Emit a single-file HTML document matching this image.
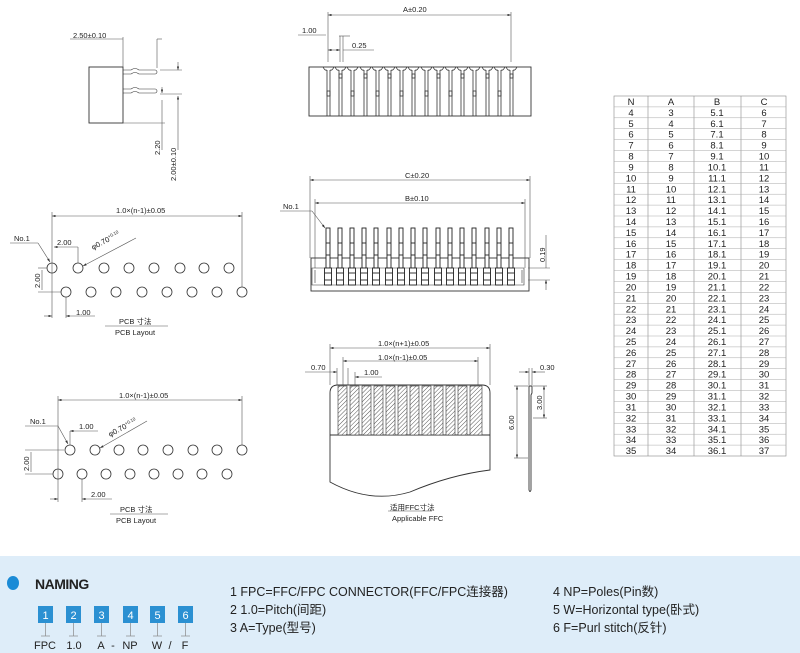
<!DOCTYPE html>
<html><head><meta charset="utf-8"><style>
html,body{margin:0;padding:0;background:#fff;}
svg{display:block;}
text{font-family:"Liberation Sans","Noto Sans CJK SC",sans-serif;}
</style></head><body>
<svg width="800" height="653" viewBox="0 0 800 653" xmlns="http://www.w3.org/2000/svg">
<defs>
<g id="slot" stroke="#333" stroke-width="0.8" fill="none">
<line x1="0" y1="70" x2="0" y2="116"/><line x1="3" y1="70" x2="3" y2="116"/>
<path d="M-4,67 q2,4 4,3 M3,70 q2,1 4,-3"/>
<rect x="0" y="74" width="3" height="4"/>
</g>
<g id="slot2" stroke="#333" stroke-width="0.8" fill="none">
<line x1="0" y1="70" x2="0" y2="116"/><line x1="3" y1="70" x2="3" y2="116"/>
<path d="M-4,67 q2,4 4,3 M3,70 q2,1 4,-3"/>
<rect x="0" y="91" width="3" height="5"/>
</g>
<g id="pin" stroke="#222" stroke-width="0.9" fill="#fff">
<rect x="0" y="228" width="4" height="40"/>
<line x1="0" y1="243" x2="4" y2="243"/><line x1="0" y1="255" x2="4" y2="255"/>
<rect x="-1.5" y="268" width="7" height="17"/>
<line x1="-1.5" y1="273" x2="5.5" y2="273"/><line x1="-1.5" y1="280" x2="5.5" y2="280"/>
</g>
<pattern id="hatch" width="3" height="3" patternUnits="userSpaceOnUse" patternTransform="rotate(45)">
<rect width="3" height="3" fill="#fff"/><line x1="0" y1="0" x2="0" y2="3" stroke="#555" stroke-width="1"/>
</pattern>
<marker id="ar" markerWidth="6" markerHeight="4" refX="6" refY="2" orient="auto-start-reverse"><path d="M0,0 L6,2 L0,4z" fill="#333"/></marker>
</defs>

<g stroke="#555" stroke-width="0.6" fill="none">
<rect x="89" y="67" width="34" height="56" stroke="#333" stroke-width="0.9"/>
<path d="M123,70 h8 q4,-3 8,0 h16 a2,2 0 0 1 0,4 h-16 q-4,-3 -8,0 h-8" stroke="#333"/>
<path d="M123,89 h8 q4,-3 8,0 h16 a2,2 0 0 1 0,4 h-16 q-4,-3 -8,0 h-8" stroke="#333"/>
<line x1="70" y1="39" x2="123" y2="39"/><line x1="123" y1="37" x2="123" y2="67"/>
<line x1="157" y1="39" x2="157" y2="68"/><line x1="157" y1="39" x2="162" y2="39"/>
<line x1="160" y1="70" x2="182" y2="70"/><line x1="178" y1="62" x2="178" y2="70" marker-end="url(#ar)"/>
<line x1="160" y1="94" x2="182" y2="94"/><line x1="162" y1="87" x2="162" y2="93" marker-end="url(#ar)"/>
<line x1="123" y1="123" x2="165" y2="123"/><line x1="162" y1="100" x2="162" y2="150"/>
<line x1="178" y1="96" x2="178" y2="150" marker-start="url(#ar)"/>

<rect x="309" y="67" width="222" height="49" stroke="#333" stroke-width="0.9"/>
<line x1="328" y1="12" x2="328" y2="62"/><line x1="511" y1="12" x2="511" y2="62"/>
<line x1="328" y1="15" x2="511" y2="15" marker-start="url(#ar)" marker-end="url(#ar)"/>
<line x1="298" y1="35" x2="326" y2="35"/><line x1="328" y1="50" x2="340" y2="50" marker-start="url(#ar)" marker-end="url(#ar)"/>
<line x1="339" y1="36" x2="350" y2="36"/><line x1="340" y1="36" x2="340" y2="62"/><line x1="343" y1="36" x2="343" y2="62"/>
<line x1="343" y1="50" x2="374" y2="50"/>

<line x1="310" y1="180" x2="530" y2="180" marker-start="url(#ar)" marker-end="url(#ar)"/>
<line x1="310" y1="176" x2="310" y2="258"/><line x1="530" y1="176" x2="530" y2="258"/>
<line x1="315" y1="203" x2="525" y2="203" marker-start="url(#ar)" marker-end="url(#ar)"/>
<line x1="315" y1="199" x2="315" y2="268"/><line x1="525" y1="199" x2="525" y2="268"/>
<line x1="280" y1="211" x2="312" y2="211"/><line x1="312" y1="211" x2="325" y2="228" marker-end="url(#ar)"/>
<rect x="311" y="258" width="218" height="33" stroke="#333" stroke-width="0.9"/>
<path d="M312,268 h212 v17 h-212z M315,270 v13 M522,270 v13" stroke="#333"/>
<line x1="528" y1="268" x2="550" y2="268"/><line x1="528" y1="280" x2="550" y2="280"/>
<line x1="546" y1="235" x2="546" y2="268"/><line x1="546" y1="280" x2="546" y2="290" marker-start="url(#ar)"/>
</g>
<g>
<use href="#slot2" x="327"/><use href="#slot" x="339"/><use href="#slot2" x="351"/><use href="#slot" x="364"/>
<use href="#slot2" x="376"/><use href="#slot" x="388"/><use href="#slot2" x="400"/><use href="#slot" x="412"/>
<use href="#slot2" x="425"/><use href="#slot" x="437"/><use href="#slot2" x="449"/><use href="#slot" x="461"/>
<use href="#slot2" x="473"/><use href="#slot" x="486"/><use href="#slot2" x="498"/><use href="#slot" x="510"/>
</g>
<g>
<use href="#pin" x="326"/><use href="#pin" x="338"/><use href="#pin" x="350"/><use href="#pin" x="362"/>
<use href="#pin" x="374"/><use href="#pin" x="387"/><use href="#pin" x="399"/><use href="#pin" x="411"/>
<use href="#pin" x="423"/><use href="#pin" x="436"/><use href="#pin" x="448"/><use href="#pin" x="460"/>
<use href="#pin" x="472"/><use href="#pin" x="485"/><use href="#pin" x="497"/><use href="#pin" x="509"/>
</g>

<g stroke="#333" stroke-width="0.8" fill="#fff">
<circle cx="52" cy="268" r="5"/><circle cx="78" cy="268" r="5"/><circle cx="104" cy="268" r="5"/><circle cx="129" cy="268" r="5"/>
<circle cx="154" cy="268" r="5"/><circle cx="180" cy="268" r="5"/><circle cx="204" cy="268" r="5"/><circle cx="229" cy="268" r="5"/>
<circle cx="66" cy="292" r="5"/><circle cx="91" cy="292" r="5"/><circle cx="116" cy="292" r="5"/><circle cx="142" cy="292" r="5"/>
<circle cx="167" cy="292" r="5"/><circle cx="192" cy="292" r="5"/><circle cx="217" cy="292" r="5"/><circle cx="242" cy="292" r="5"/>
<circle cx="70" cy="450" r="5"/><circle cx="95" cy="450" r="5"/><circle cx="119" cy="450" r="5"/><circle cx="143" cy="450" r="5"/>
<circle cx="168" cy="450" r="5"/><circle cx="193" cy="450" r="5"/><circle cx="217" cy="450" r="5"/><circle cx="242" cy="450" r="5"/>
<circle cx="58" cy="474" r="5"/><circle cx="82" cy="474" r="5"/><circle cx="106" cy="474" r="5"/><circle cx="130" cy="474" r="5"/>
<circle cx="154" cy="474" r="5"/><circle cx="178" cy="474" r="5"/><circle cx="202" cy="474" r="5"/><circle cx="227" cy="474" r="5"/>
</g>
<g stroke="#555" stroke-width="0.6" fill="none">
<line x1="52" y1="216" x2="242" y2="216" marker-start="url(#ar)" marker-end="url(#ar)"/>
<line x1="52" y1="212" x2="52" y2="318"/><line x1="242" y1="212" x2="242" y2="287"/>
<line x1="10" y1="243" x2="38" y2="243"/><line x1="38" y1="243" x2="50" y2="262" marker-end="url(#ar)"/>
<line x1="54" y1="247" x2="78" y2="247" marker-start="url(#ar)"/><line x1="78" y1="247" x2="78" y2="263"/>
<line x1="136" y1="238" x2="83" y2="266" marker-end="url(#ar)"/>
<line x1="38" y1="268" x2="47" y2="268"/><line x1="38" y1="292" x2="61" y2="292"/><line x1="42" y1="270" x2="42" y2="290"/>
<line x1="44" y1="316" x2="52" y2="316" marker-end="url(#ar)"/><line x1="66" y1="297" x2="66" y2="318"/>
<line x1="66" y1="316" x2="95" y2="316" marker-start="url(#ar)"/>
<line x1="105" y1="326" x2="168" y2="326"/>

<line x1="58" y1="400" x2="242" y2="400" marker-start="url(#ar)" marker-end="url(#ar)"/>
<line x1="58" y1="396" x2="58" y2="502"/><line x1="242" y1="396" x2="242" y2="445"/>
<line x1="25" y1="426" x2="58" y2="426"/><line x1="58" y1="426" x2="68" y2="444" marker-end="url(#ar)"/>
<line x1="70" y1="431" x2="98" y2="431" marker-start="url(#ar)"/><line x1="70" y1="431" x2="70" y2="445"/>
<line x1="147" y1="421" x2="100" y2="448" marker-end="url(#ar)"/>
<line x1="25" y1="450" x2="64" y2="450"/><line x1="25" y1="474" x2="53" y2="474"/><line x1="31" y1="452" x2="31" y2="472"/>
<line x1="50" y1="499" x2="58" y2="499" marker-end="url(#ar)"/><line x1="82" y1="479" x2="82" y2="502"/>
<line x1="82" y1="499" x2="112" y2="499" marker-start="url(#ar)"/>
<line x1="110" y1="514" x2="168" y2="514"/>
</g>

<g stroke="#555" stroke-width="0.6" fill="none">
<line x1="330" y1="348" x2="490" y2="348" marker-start="url(#ar)" marker-end="url(#ar)"/>
<line x1="330" y1="344" x2="330" y2="385"/><line x1="490" y1="344" x2="490" y2="385"/>
<line x1="343" y1="361" x2="478" y2="361" marker-start="url(#ar)" marker-end="url(#ar)"/>
<line x1="343" y1="357" x2="343" y2="447"/><line x1="478" y1="357" x2="478" y2="447"/>
<line x1="305" y1="372" x2="337" y2="372" marker-end="url(#ar)"/><line x1="337" y1="368" x2="337" y2="447"/>
<line x1="348" y1="368" x2="348" y2="447"/><line x1="355" y1="377" x2="382" y2="377" marker-start="url(#ar)"/><line x1="355" y1="372" x2="355" y2="447"/>
<line x1="388" y1="511" x2="432" y2="511"/>
</g>
<path d="M330,393 q0,-8 8,-8 h144 q8,0 8,8 V470 q-40,5 -80,22 q-40,12 -80,-10 z" fill="#fff" stroke="#333" stroke-width="0.9"/>
<line x1="330" y1="435" x2="490" y2="435" stroke="#333" stroke-width="0.9"/>
<g fill="url(#hatch)" stroke="#333" stroke-width="0.6">
<rect x="338" y="386" width="9" height="49"/><rect x="350" y="386" width="9" height="49"/><rect x="362" y="386" width="9" height="49"/>
<rect x="374" y="386" width="9" height="49"/><rect x="386" y="386" width="9" height="49"/><rect x="398" y="386" width="9" height="49"/>
<rect x="410" y="386" width="9" height="49"/><rect x="422" y="386" width="9" height="49"/><rect x="434" y="386" width="9" height="49"/>
<rect x="446" y="386" width="9" height="49"/><rect x="458" y="386" width="9" height="49"/><rect x="470" y="386" width="12" height="49"/>
</g>
<path d="M529,386 h3 v7 l-1,2 v95 q-1,3 -2,0 z" fill="#fff" stroke="#333" stroke-width="0.9"/>
<g stroke="#555" stroke-width="0.6" fill="none">
<line x1="519" y1="372" x2="529" y2="372" marker-end="url(#ar)"/><line x1="532" y1="372" x2="545" y2="372" marker-start="url(#ar)"/>
<line x1="529" y1="368" x2="529" y2="385"/><line x1="532" y1="368" x2="532" y2="385"/>
<line x1="514" y1="386" x2="528" y2="386"/><line x1="514" y1="458" x2="528" y2="458"/>
<line x1="517" y1="386" x2="517" y2="458" marker-start="url(#ar)" marker-end="url(#ar)"/>
<line x1="533" y1="386" x2="547" y2="386"/><line x1="533" y1="418" x2="547" y2="418"/>
<line x1="544" y1="386" x2="544" y2="418" marker-start="url(#ar)" marker-end="url(#ar)"/>
</g>

<g font-size="7.5" fill="#222">
<text x="73" y="38">2.50±0.10</text>
<text x="155" y="150" transform="rotate(-90 160 150)">2.20</text>
<text x="165" y="150" transform="rotate(-90 176 150)" dx="-20">2.00±0.10</text>
<text x="403" y="12">A±0.20</text>
<text x="302" y="33">1.00</text>
<text x="352" y="48">0.25</text>
<text x="405" y="178">C±0.20</text>
<text x="405" y="201">B±0.10</text>
<text x="283" y="209">No.1</text>
<text x="545" y="262" transform="rotate(-90 545 262)">0.19</text>
<text x="116" y="213">1.0×(n-1)±0.05</text>
<text x="14" y="241">No.1</text>
<text x="57" y="245">2.00</text>
<text x="93" y="250" transform="rotate(-28 93 250)">φ0.70<tspan font-size="4.5" dy="-3">+0.10</tspan></text>
<text x="40" y="288" transform="rotate(-90 40 288)">2.00</text>
<text x="76" y="315">1.00</text>
<text x="119" y="324">PCB 寸法</text>
<text x="115" y="335">PCB Layout</text>
<text x="119" y="398">1.0×(n-1)±0.05</text>
<text x="30" y="424">No.1</text>
<text x="79" y="429">1.00</text>
<text x="110" y="437" transform="rotate(-28 110 437)">φ0.70<tspan font-size="4.5" dy="-3">+0.10</tspan></text>
<text x="29" y="471" transform="rotate(-90 29 471)">2.00</text>
<text x="91" y="497">2.00</text>
<text x="120" y="512">PCB 寸法</text>
<text x="116" y="523">PCB Layout</text>
<text x="378" y="346">1.0×(n+1)±0.05</text>
<text x="378" y="360">1.0×(n-1)±0.05</text>
<text x="311" y="370">0.70</text>
<text x="364" y="375">1.00</text>
<text x="540" y="370">0.30</text>
<text x="514" y="430" transform="rotate(-90 514 430)">6.00</text>
<text x="542" y="410" transform="rotate(-90 542 410)">3.00</text>
<text x="390" y="510">适用FFC寸法</text>
<text x="392" y="521">Applicable FFC</text>
</g>

<g stroke="#888" stroke-width="0.6" fill="none">
<rect x="614" y="96" width="172" height="360"/>
<line x1="648" y1="96" x2="648" y2="456"/><line x1="694" y1="96" x2="694" y2="456"/><line x1="741" y1="96" x2="741" y2="456"/>
</g>
<g stroke="#aaa" stroke-width="0.5">
<line x1="614" y1="106.9" x2="786" y2="106.9"/><line x1="614" y1="117.8" x2="786" y2="117.8"/><line x1="614" y1="128.7" x2="786" y2="128.7"/><line x1="614" y1="139.6" x2="786" y2="139.6"/><line x1="614" y1="150.5" x2="786" y2="150.5"/><line x1="614" y1="161.5" x2="786" y2="161.5"/><line x1="614" y1="172.4" x2="786" y2="172.4"/><line x1="614" y1="183.3" x2="786" y2="183.3"/><line x1="614" y1="194.2" x2="786" y2="194.2"/><line x1="614" y1="205.1" x2="786" y2="205.1"/><line x1="614" y1="216" x2="786" y2="216"/><line x1="614" y1="226.9" x2="786" y2="226.9"/><line x1="614" y1="237.8" x2="786" y2="237.8"/><line x1="614" y1="248.7" x2="786" y2="248.7"/><line x1="614" y1="259.6" x2="786" y2="259.6"/><line x1="614" y1="270.5" x2="786" y2="270.5"/><line x1="614" y1="281.5" x2="786" y2="281.5"/><line x1="614" y1="292.4" x2="786" y2="292.4"/><line x1="614" y1="303.3" x2="786" y2="303.3"/><line x1="614" y1="314.2" x2="786" y2="314.2"/><line x1="614" y1="325.1" x2="786" y2="325.1"/><line x1="614" y1="336" x2="786" y2="336"/><line x1="614" y1="346.9" x2="786" y2="346.9"/><line x1="614" y1="357.8" x2="786" y2="357.8"/><line x1="614" y1="368.7" x2="786" y2="368.7"/><line x1="614" y1="379.6" x2="786" y2="379.6"/><line x1="614" y1="390.5" x2="786" y2="390.5"/><line x1="614" y1="401.5" x2="786" y2="401.5"/><line x1="614" y1="412.4" x2="786" y2="412.4"/><line x1="614" y1="423.3" x2="786" y2="423.3"/><line x1="614" y1="434.2" x2="786" y2="434.2"/><line x1="614" y1="445.1" x2="786" y2="445.1"/>
</g>
<g font-size="9.5" fill="#222" text-anchor="middle">
<text x="631" y="105"><tspan>N</tspan><tspan x="671">A</tspan><tspan x="717">B</tspan><tspan x="764">C</tspan></text>
<text x="631" y="115.9">4<tspan x="671">3</tspan><tspan x="717">5.1</tspan><tspan x="764">6</tspan></text>
<text x="631" y="126.8">5<tspan x="671">4</tspan><tspan x="717">6.1</tspan><tspan x="764">7</tspan></text>
<text x="631" y="137.7">6<tspan x="671">5</tspan><tspan x="717">7.1</tspan><tspan x="764">8</tspan></text>
<text x="631" y="148.6">7<tspan x="671">6</tspan><tspan x="717">8.1</tspan><tspan x="764">9</tspan></text>
<text x="631" y="159.5">8<tspan x="671">7</tspan><tspan x="717">9.1</tspan><tspan x="764">10</tspan></text>
<text x="631" y="170.5">9<tspan x="671">8</tspan><tspan x="717">10.1</tspan><tspan x="764">11</tspan></text>
<text x="631" y="181.4">10<tspan x="671">9</tspan><tspan x="717">11.1</tspan><tspan x="764">12</tspan></text>
<text x="631" y="192.3">11<tspan x="671">10</tspan><tspan x="717">12.1</tspan><tspan x="764">13</tspan></text>
<text x="631" y="203.2">12<tspan x="671">11</tspan><tspan x="717">13.1</tspan><tspan x="764">14</tspan></text>
<text x="631" y="214.1">13<tspan x="671">12</tspan><tspan x="717">14.1</tspan><tspan x="764">15</tspan></text>
<text x="631" y="225">14<tspan x="671">13</tspan><tspan x="717">15.1</tspan><tspan x="764">16</tspan></text>
<text x="631" y="235.9">15<tspan x="671">14</tspan><tspan x="717">16.1</tspan><tspan x="764">17</tspan></text>
<text x="631" y="246.8">16<tspan x="671">15</tspan><tspan x="717">17.1</tspan><tspan x="764">18</tspan></text>
<text x="631" y="257.7">17<tspan x="671">16</tspan><tspan x="717">18.1</tspan><tspan x="764">19</tspan></text>
<text x="631" y="268.6">18<tspan x="671">17</tspan><tspan x="717">19.1</tspan><tspan x="764">20</tspan></text>
<text x="631" y="279.5">19<tspan x="671">18</tspan><tspan x="717">20.1</tspan><tspan x="764">21</tspan></text>
<text x="631" y="290.5">20<tspan x="671">19</tspan><tspan x="717">21.1</tspan><tspan x="764">22</tspan></text>
<text x="631" y="301.4">21<tspan x="671">20</tspan><tspan x="717">22.1</tspan><tspan x="764">23</tspan></text>
<text x="631" y="312.3">22<tspan x="671">21</tspan><tspan x="717">23.1</tspan><tspan x="764">24</tspan></text>
<text x="631" y="323.2">23<tspan x="671">22</tspan><tspan x="717">24.1</tspan><tspan x="764">25</tspan></text>
<text x="631" y="334.1">24<tspan x="671">23</tspan><tspan x="717">25.1</tspan><tspan x="764">26</tspan></text>
<text x="631" y="345">25<tspan x="671">24</tspan><tspan x="717">26.1</tspan><tspan x="764">27</tspan></text>
<text x="631" y="355.9">26<tspan x="671">25</tspan><tspan x="717">27.1</tspan><tspan x="764">28</tspan></text>
<text x="631" y="366.8">27<tspan x="671">26</tspan><tspan x="717">28.1</tspan><tspan x="764">29</tspan></text>
<text x="631" y="377.7">28<tspan x="671">27</tspan><tspan x="717">29.1</tspan><tspan x="764">30</tspan></text>
<text x="631" y="388.6">29<tspan x="671">28</tspan><tspan x="717">30.1</tspan><tspan x="764">31</tspan></text>
<text x="631" y="399.5">30<tspan x="671">29</tspan><tspan x="717">31.1</tspan><tspan x="764">32</tspan></text>
<text x="631" y="410.5">31<tspan x="671">30</tspan><tspan x="717">32.1</tspan><tspan x="764">33</tspan></text>
<text x="631" y="421.4">32<tspan x="671">31</tspan><tspan x="717">33.1</tspan><tspan x="764">34</tspan></text>
<text x="631" y="432.3">33<tspan x="671">32</tspan><tspan x="717">34.1</tspan><tspan x="764">35</tspan></text>
<text x="631" y="443.2">34<tspan x="671">33</tspan><tspan x="717">35.1</tspan><tspan x="764">36</tspan></text>
<text x="631" y="454.1">35<tspan x="671">34</tspan><tspan x="717">36.1</tspan><tspan x="764">37</tspan></text>
</g>

<rect x="0" y="556" width="800" height="97" fill="#deedf9"/>
<ellipse cx="13" cy="583" rx="6" ry="7" fill="#1b8bd6"/>
<text x="35" y="589" font-size="14" font-weight="bold" fill="#222" letter-spacing="-0.5">NAMING</text>
<g fill="#2b90d2">
<rect x="38" y="606" width="15" height="17"/><rect x="66" y="606" width="15" height="17"/><rect x="94" y="606" width="15" height="17"/>
<rect x="123" y="606" width="15" height="17"/><rect x="150" y="606" width="15" height="17"/><rect x="178" y="606" width="15" height="17"/>
</g>
<g font-size="11" fill="#fff" text-anchor="middle">
<text x="45.5" y="619">1</text><text x="73.5" y="619">2</text><text x="101.5" y="619">3</text><text x="130.5" y="619">4</text><text x="157.5" y="619">5</text><text x="185.5" y="619">6</text>
</g>
<g stroke="#888" stroke-width="0.7">
<line x1="45.5" y1="623" x2="45.5" y2="636"/><line x1="73.5" y1="623" x2="73.5" y2="636"/><line x1="101.5" y1="623" x2="101.5" y2="636"/>
<line x1="130.5" y1="623" x2="130.5" y2="636"/><line x1="157.5" y1="623" x2="157.5" y2="636"/><line x1="185.5" y1="623" x2="185.5" y2="636"/>
<line x1="41" y1="636" x2="50" y2="636"/><line x1="69" y1="636" x2="78" y2="636"/><line x1="97" y1="636" x2="106" y2="636"/>
<line x1="126" y1="636" x2="135" y2="636"/><line x1="153" y1="636" x2="162" y2="636"/><line x1="181" y1="636" x2="190" y2="636"/>
</g>
<g font-size="11" fill="#222" text-anchor="middle">
<text x="45" y="649">FPC</text><text x="74" y="649">1.0</text><text x="101" y="649">A</text><text x="113" y="649">-</text>
<text x="130" y="649">NP</text><text x="157" y="649">W</text><text x="170" y="649">/</text><text x="185" y="649">F</text>
</g>
<g font-size="12.5" fill="#222">
<text x="230" y="596">1 FPC=FFC/FPC CONNECTOR(FFC/FPC连接器)</text>
<text x="230" y="614">2 1.0=Pitch(间距)</text>
<text x="230" y="632">3 A=Type(型号)</text>
<text x="553" y="596">4 NP=Poles(Pin数)</text>
<text x="553" y="614">5 W=Horizontal type(卧式)</text>
<text x="553" y="632">6 F=Purl stitch(反针)</text>
</g>
</svg>
</body></html>
